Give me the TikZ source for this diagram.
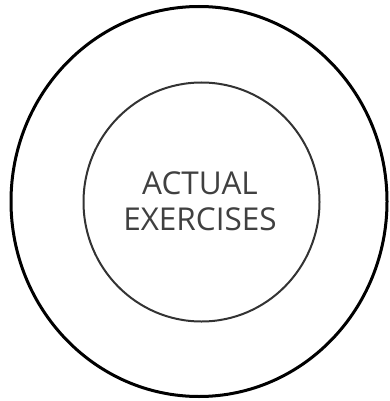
\documentclass[tikz,border=0pt]{standalone}
\usepackage{fontspec}
\setmainfont{Open Sans}
\begin{document}
\begin{tikzpicture}[x=1pt,y=1pt,
  outerring/.style={draw=black,line width=3pt},
  innerring/.style={draw=black!80,line width=2pt},
  label/.style={text=black!75,font=\fontsize{31.5}{36}\selectfont,align=center}]
\useasboundingbox (0,0) rectangle (390,-401);
\draw[outerring] (199,-201.5) ellipse [x radius=188, y radius=195];
\draw[innerring] (201.5,-202) ellipse [x radius=118, y radius=119.5];
\node[label] (t) at (200,-201) {ACTUAL\\EXERCISES};
\end{tikzpicture}
\end{document}
